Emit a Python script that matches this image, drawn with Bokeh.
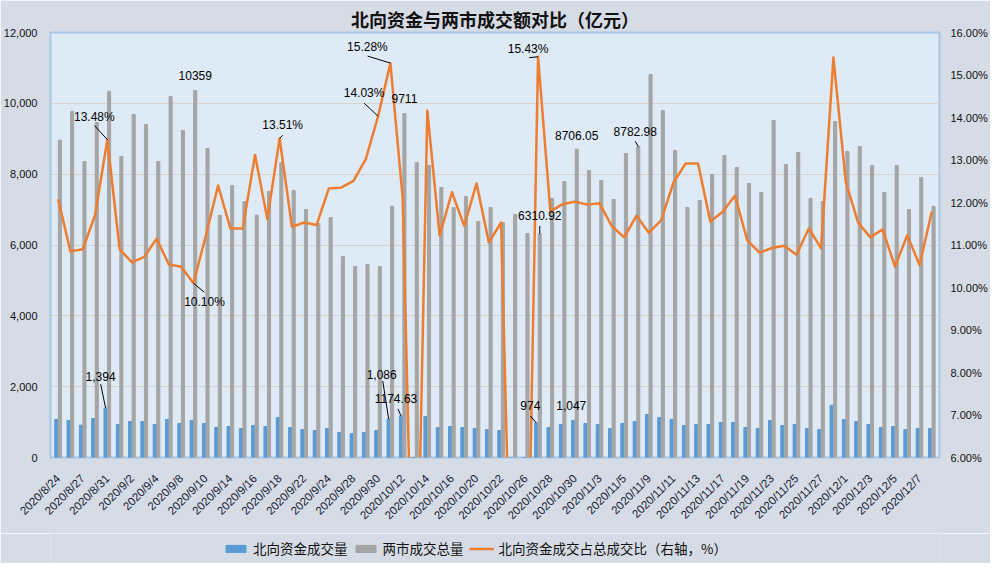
import math
from bokeh.plotting import figure
from bokeh.layouts import column
from bokeh.models import (Range1d, LinearAxis, FixedTicker, NumeralTickFormatter,
                          PrintfTickFormatter, Legend, LegendItem)
from bokeh.core.properties import value
from bokeh.embed import file_html
from bokeh.resources import INLINE

# ---------------- data ----------------
dates = ["2020/8/24", "2020/8/26", "2020/8/27", "2020/8/28", "2020/8/31", "2020/9/1",
         "2020/9/2", "2020/9/3", "2020/9/4", "2020/9/7", "2020/9/8", "2020/9/9",
         "2020/9/10", "2020/9/11", "2020/9/14", "2020/9/15", "2020/9/16", "2020/9/17",
         "2020/9/18", "2020/9/21", "2020/9/22", "2020/9/23", "2020/9/24", "2020/9/25",
         "2020/9/28", "2020/9/29", "2020/9/30", "2020/10/9", "2020/10/12", "2020/10/13",
         "2020/10/14", "2020/10/15", "2020/10/16", "2020/10/19", "2020/10/20", "2020/10/21",
         "2020/10/22", "2020/10/23", "2020/10/26", "2020/10/27", "2020/10/28", "2020/10/29",
         "2020/10/30", "2020/11/2", "2020/11/3", "2020/11/4", "2020/11/5", "2020/11/6",
         "2020/11/9", "2020/11/10", "2020/11/11", "2020/11/12", "2020/11/13", "2020/11/16",
         "2020/11/17", "2020/11/18", "2020/11/19", "2020/11/20", "2020/11/23", "2020/11/24",
         "2020/11/25", "2020/11/26", "2020/11/27", "2020/11/30", "2020/12/1", "2020/12/2",
         "2020/12/3", "2020/12/4", "2020/12/5", "2020/12/6", "2020/12/7", "2020/12/8"]

northbound = [1073, 1045, 913, 1101, 1394, 932, 1016, 1016, 932, 1073, 960, 1046,
              960, 847, 875, 819, 903, 875, 1129, 847, 790, 762, 819, 706,
              678, 706, 762, 1086, 1174.63, 0, 1157, 847, 875, 847, 819, 790,
              762, 0, 0, 974, 847, 932, 1047, 960, 932, 819, 960, 1016,
              1214, 1129, 1073, 903, 932, 932, 988, 988, 847, 819, 1045, 903,
              932, 819, 790, 1477, 1073, 1016, 932, 847, 875, 790, 819, 819]

market_total = [8959, 9769, 8358, 9459, 10341, 8499, 9685, 9402, 8358, 10193, 9233, 10359,
                8724, 6842, 7680, 7228, 6842, 7511, 8330, 7539, 7002, 6607, 6776, 5675,
                5393, 5450, 5393, 7096, 9711, 8330, 8245, 7624, 7059, 7370, 6663, 7059,
                6635, 6861, 6325, 6310.92, 7313, 7793, 8706.05, 8104, 7821, 7285, 8584, 8782.98,
                10814, 9798, 8668, 7059, 7256, 7991, 8527, 8188, 7737, 7482, 9515, 8273,
                8612, 7313, 7228, 9487, 8640, 8781, 8245, 7482, 8245, 7002, 7906, 7087]

ratio_pct = [12.08, 10.85, 10.90, 11.70, 13.48, 10.90, 10.59, 10.72, 11.15, 10.54,
             10.49, 10.10, 11.22, 12.40, 11.39, 11.39, 13.12, 11.61, 13.51, 11.43,
             11.53, 11.47, 12.33, 12.35, 12.51, 13.02, 14.03, 15.28, 12.10, 0,
             14.16, 11.22, 12.24, 11.45, 12.45, 11.06, 11.53, 0, 0, 15.43,
             11.79, 11.96, 12.02, 11.95, 11.98, 11.44, 11.18, 11.69, 11.29, 11.58,
             12.47, 12.92, 12.92, 11.55, 11.78, 12.16, 11.11, 10.82, 10.93, 10.98,
             10.77, 11.39, 10.92, 15.41, 12.49, 11.53, 11.18, 11.37, 10.49, 11.23,
             10.53, 11.79]

left_ticks = [0, 2000, 4000, 6000, 8000, 10000, 12000]
right_ticks = [6, 7, 8, 9, 10, 11, 12, 13, 14, 15, 16]

series_names = ["北向资金成交量", "两市成交总量", "北向资金成交占总成交比（右轴，%）"]
title_text = "北向资金与两市成交额对比（亿元）"

# data labels: (series, index, text, text offset px, leader start px or None)
data_labels = [
    ("pct", 4, "13.48%", (-13, -23), (-13, -14)),
    ("pct", 11, "10.10%", (11, 19), (11, 9)),
    ("pct", 18, "13.51%", (3, -13), (3, -3)),
    ("pct", 26, "14.03%", (-14, -23), (-14, -13)),
    ("pct", 27, "15.28%", (-23, -16), (-23, -7)),
    ("pct", 39, "15.43%", (-10, -8), (-9, 1)),
    ("total", 11, "10359", (0, -15), None),
    ("total", 28, "9711", (0, -15), None),
    ("total", 39, "6310.92", (0, -18), (0, -8)),
    ("total", 42, "8706.05", (0, -14), None),
    ("total", 47, "8782.98", (-3, -15), (-3, -5)),
    ("nb", 4, "1,394", (-5, -32), (-5, -24)),
    ("nb", 27, "1,086", (-7, -45), (-6, -38)),
    ("nb", 28, "1174.63", (-5, -17), (-3, -7)),
    ("nb", 39, "974", (-6, -18), (-6, -7)),
    ("nb", 42, "1,047", (-2, -15), None),
]

# ---------------- main figure ----------------
BG = "#D6DCE5"
W, H, LEG_H = 990, 533, 30
X0, X1 = -0.62, len(dates) - 1 + 0.62
FRAME_W, FRAME_H = 898, 425
PXX = FRAME_W / (X1 - X0)
PXY = {"nb": FRAME_H / 12000, "total": FRAME_H / 12000, "pct": FRAME_H / 10}
BW = 0.14
BLUE, GRAY, ORANGE = "#5B9BD5", "#A5A5A5", "#ED7D31"

p = figure(width=W, height=H, output_backend="svg", toolbar_location=None,
           x_range=Range1d(X0, X1), y_range=Range1d(0, 12000),
           min_border_left=41, min_border_right=51, min_border_top=32,
           min_border_bottom=H - 32 - FRAME_H)
p.extra_y_ranges = {"pct": Range1d(6, 16)}

p.border_fill_color = BG
p.background_fill_color = "#DEEAF6"
p.outline_line_color = "#A7C5E5"
p.outline_line_width = 2

p.title.text = title_text
p.title.align = "center"
p.title.text_font = "Noto Sans CJK SC"
p.title.text_font_size = "18px"
p.title.text_font_style = "bold"
p.title.text_color = "#111111"
p.title.standoff = 2

xs = list(range(len(dates)))
r_nb = p.vbar(x=[i - BW for i in xs], top=northbound, width=0.27, color=BLUE)
r_tot = p.vbar(x=[i + BW for i in xs], top=market_total, width=0.25, color=GRAY)
r_line = p.line(x=xs, y=ratio_pct, y_range_name="pct", color=ORANGE, line_width=2.5,
                line_join="round")

# axes
p.xaxis.ticker = FixedTicker(ticks=xs[::2])
p.xaxis.major_label_overrides = {i: dates[i] for i in xs[::2]}
p.xaxis.major_label_orientation = math.pi / 4
p.xaxis.axis_line_color = None
p.xaxis.major_tick_line_color = None
p.xaxis.minor_tick_line_color = None
p.xaxis.major_label_standoff = 13
p.xaxis.major_label_text_font = "Liberation Sans"
p.xaxis.major_label_text_font_size = "11.5px"
p.xaxis.major_label_text_color = "#141B33"

p.yaxis.ticker = FixedTicker(ticks=left_ticks)
p.yaxis.formatter = NumeralTickFormatter(format="0,0")
ax = p.yaxis[0]
ax.axis_line_color = None
ax.major_tick_line_color = None
ax.minor_tick_line_color = None
ax.major_label_standoff = 7
ax.major_label_text_font = "Liberation Sans"
ax.major_label_text_font_size = "11px"
ax.major_label_text_color = "#111111"

rax = LinearAxis(y_range_name="pct", ticker=FixedTicker(ticks=right_ticks),
                 formatter=PrintfTickFormatter(format="%.2f%%"))
rax.axis_line_color = None
rax.major_tick_line_color = None
rax.minor_tick_line_color = None
rax.major_label_standoff = 5
rax.major_label_text_font = "Liberation Sans"
rax.major_label_text_font_size = "11px"
rax.major_label_text_color = "#111111"
p.add_layout(rax, "right")

p.xgrid.grid_line_color = None
p.ygrid.ticker = FixedTicker(ticks=left_ticks)
p.ygrid.grid_line_color = "#D6D3CC"
p.ygrid.grid_line_width = 1

# data labels
series_vals = {"nb": northbound, "total": market_total, "pct": ratio_pct}
series_dx = {"nb": -BW, "total": BW, "pct": 0}
for key in ["nb", "total", "pct"]:
    rows = [d for d in data_labels if d[0] == key]
    rng = {"y_range_name": "pct"} if key == "pct" else {}
    ax_ = [d[1] + series_dx[key] for d in rows]
    ay_ = [series_vals[key][d[1]] for d in rows]
    p.text(x=ax_, y=ay_, text=[d[2] for d in rows],
           x_offset=[d[3][0] for d in rows], y_offset=[d[3][1] for d in rows],
           text_align="center", text_baseline="middle",
           text_font=value("Liberation Sans"), text_font_size="12px", text_color="#000000", **rng)
    segs = [d for d in rows if d[4] is not None]
    if segs:
        x0 = [d[1] + series_dx[key] + d[4][0] / PXX for d in segs]
        y0 = [series_vals[key][d[1]] - d[4][1] / PXY[key] for d in segs]
        x1 = [d[1] + series_dx[key] for d in segs]
        y1 = [series_vals[key][d[1]] for d in segs]
        p.segment(x0=x0, y0=y0, x1=x1, y1=y1, line_color="#000000", line_width=1, **rng)

# ---------------- legend strip ----------------
q = figure(width=W, height=LEG_H, output_backend="svg", toolbar_location=None,
           x_range=Range1d(0, 1), y_range=Range1d(0, 1),
           x_axis_location=None, y_axis_location=None,
           min_border_left=0, min_border_right=0, min_border_top=0, min_border_bottom=0)
q.grid.visible = False
q.outline_line_color = None
q.border_fill_color = BG
q.background_fill_color = BG
# legend proxies drawn outside the strip's visible range
d_nb = q.vbar(x=[5], top=[5], bottom=[4], width=0.1, color=BLUE)
d_tot = q.vbar(x=[5], top=[5], bottom=[4], width=0.1, color=GRAY)
d_line = q.line(x=[5, 6], y=[5, 5], color=ORANGE, line_width=2.5)
legend = Legend(items=[LegendItem(label=series_names[0], renderers=[d_nb]),
                       LegendItem(label=series_names[1], renderers=[d_tot]),
                       LegendItem(label=series_names[2], renderers=[d_line])],
                location=(173, 5), orientation="horizontal",
                glyph_width=25, glyph_height=9, label_standoff=5, spacing=5,
                padding=0, margin=0, background_fill_alpha=0, border_line_color=None,
                label_text_font="Noto Sans CJK SC", label_text_font_size="13.5px",
                label_text_color="#111111")
q.add_layout(legend)

layout = column(p, q, spacing=0)
open("out.html", "w").write(file_html(layout, INLINE))
